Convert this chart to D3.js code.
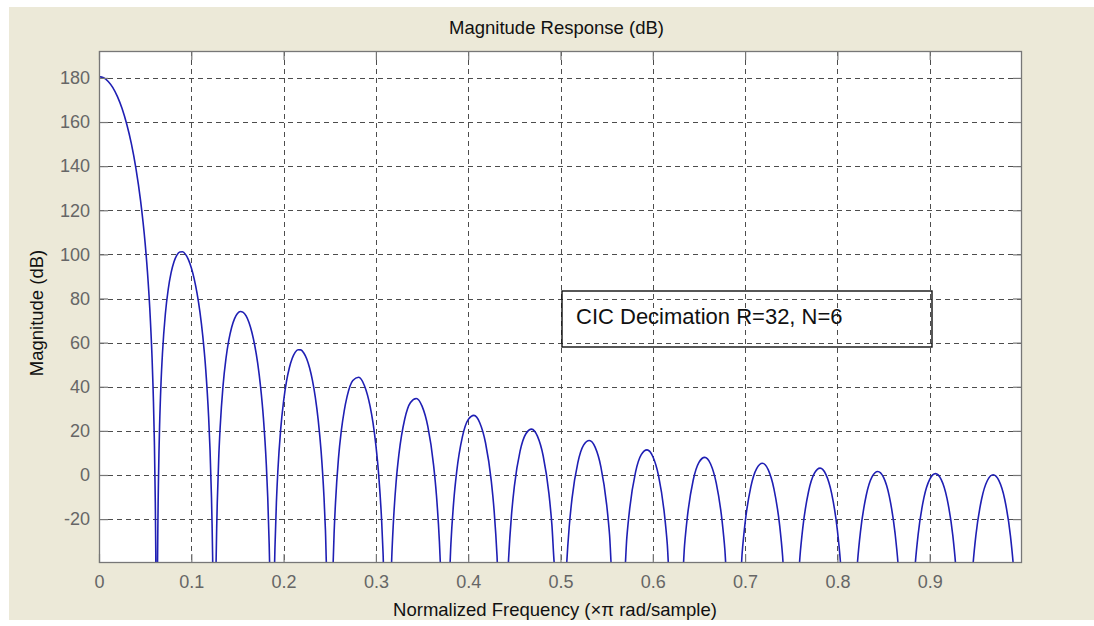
<!DOCTYPE html>
<html>
<head>
<meta charset="utf-8">
<script src="https://cdn.jsdelivr.net/npm/d3@7"></script>
<style>
  html, body { margin: 0; padding: 0; background: #ffffff; }
  svg { display: block; }
  text { font-family: "Liberation Sans", Arial, sans-serif; }
</style>
</head>
<body>
<svg id="chart" width="1094" height="626"></svg>
<script>
// CIC decimator magnitude response, sampled lobe by lobe as [frequency (x pi rad/sample), magnitude (dB)]
const mainLobe = [[0,180.6],[0.005,180.1],[0.01,178.4],[0.015,175.6],[0.02,171.5],[0.025,166.1],[0.03,159.1],[0.035,150.3],[0.04,139.0],[0.045,124.5],[0.05,105.0],[0.0525,92.0],[0.055,75.6],[0.0575,52.9],[0.0585,40.5],[0.059,33.2],[0.06,14.9],[0.061,-12.5],[0.0615,-34.0],[0.062,-70.5]];
const sideLobes = [
  [[0.063125,-59.8],[0.063438,-38.9],[0.06375,-24.1],[0.064063,-12.8],[0.064375,-3.6],[0.065,10.9],[0.065625,22.0],[0.067188,41.7],[0.06875,55.1],[0.071875,73.0],[0.075,84.2],[0.078125,91.7],[0.08125,96.7],[0.084375,99.7],[0.0875,101.1],[0.090625,101.2],[0.09375,100.0],[0.096875,97.6],[0.1,93.9],[0.103125,88.9],[0.10625,82.3],[0.109375,73.8],[0.1125,62.7],[0.115625,47.9],[0.11875,26.5],[0.120313,11.2],[0.121875,-10.3],[0.1225,-22.1],[0.123125,-37.3],[0.12375,-58.6]],
  [[0.12625,-59.5],[0.126875,-38.8],[0.1275,-24.0],[0.128125,-12.8],[0.129688,7.5],[0.13125,21.5],[0.134375,40.4],[0.1375,52.6],[0.140625,61.1],[0.14375,67.0],[0.146875,70.9],[0.15,73.2],[0.153125,74.1],[0.15625,73.7],[0.159375,72.1],[0.1625,69.1],[0.165625,64.7],[0.16875,58.7],[0.171875,50.8],[0.175,40.2],[0.178125,25.9],[0.18125,4.9],[0.182813,-10.1],[0.184375,-31.4],[0.185,-43.1],[0.185625,-58.2]],
  [[0.189375,-59.2],[0.19,-44.4],[0.190625,-33.1],[0.192188,-12.6],[0.19375,1.6],[0.196875,20.9],[0.2,33.5],[0.203125,42.4],[0.20625,48.6],[0.209375,52.9],[0.2125,55.6],[0.215625,56.8],[0.21875,56.7],[0.221875,55.3],[0.225,52.7],[0.228125,48.6],[0.23125,42.9],[0.234375,35.2],[0.2375,24.9],[0.240625,10.8],[0.24375,-9.9],[0.245313,-24.8],[0.246875,-46.0]],
  [[0.2525,-58.6],[0.253125,-47.3],[0.254688,-26.7],[0.25625,-12.4],[0.259375,7.2],[0.2625,20.0],[0.265625,29.0],[0.26875,35.5],[0.275,42.8],[0.28125,44.3],[0.2875,40.6],[0.29375,31.1],[0.296875,23.6],[0.3,13.4],[0.303125,-0.5],[0.30625,-21.0],[0.307813,-35.9],[0.309375,-57.0]],
  [[0.315625,-58.0],[0.317188,-37.3],[0.31875,-23.0],[0.321875,-3.3],[0.325,9.6],[0.33125,25.4],[0.3375,32.9],[0.34375,34.7],[0.35,31.2],[0.35625,22.0],[0.3625,4.5],[0.365625,-9.3],[0.36875,-29.8],[0.370313,-44.6],[0.371875,-65.7]],
  [[0.379688,-45.7],[0.38125,-31.3],[0.384375,-11.6],[0.3875,1.4],[0.39375,17.4],[0.4,25.1],[0.40625,27.0],[0.4125,23.7],[0.41875,14.6],[0.425,-2.7],[0.428125,-16.4],[0.43125,-36.9],[0.432813,-51.6]],
  [[0.442188,-52.6],[0.44375,-38.1],[0.446875,-18.3],[0.45,-5.2],[0.45625,10.9],[0.4625,18.7],[0.46875,20.8],[0.475,17.6],[0.48125,8.6],[0.4875,-8.6],[0.490625,-22.3],[0.49375,-42.6]],
  [[0.504688,-58.1],[0.50625,-43.7],[0.509375,-23.8],[0.5125,-10.6],[0.51875,5.5],[0.525,13.5],[0.53125,15.6],[0.5375,12.6],[0.54375,3.7],[0.55,-13.4],[0.553125,-27.0],[0.55625,-47.4]],
  [[0.56875,-48.2],[0.571875,-28.3],[0.575,-15.1],[0.58125,1.2],[0.5875,9.2],[0.59375,11.4],[0.6,8.4],[0.60625,-0.4],[0.6125,-17.4],[0.615625,-31.0],[0.61875,-51.2]],
  [[0.63125,-51.9],[0.634375,-32.0],[0.6375,-18.8],[0.64375,-2.4],[0.65,5.7],[0.65625,8.0],[0.6625,5.1],[0.66875,-3.7],[0.675,-20.6],[0.678125,-34.1],[0.68125,-54.4]],
  [[0.69375,-54.9],[0.696875,-35.0],[0.7,-21.7],[0.70625,-5.3],[0.7125,2.9],[0.71875,5.3],[0.725,2.4],[0.73125,-6.3],[0.7375,-23.1],[0.740625,-36.7],[0.74375,-56.9]],
  [[0.75625,-57.3],[0.759375,-37.3],[0.7625,-24.0],[0.76875,-7.5],[0.775,0.7],[0.78125,3.1],[0.7875,0.3],[0.79375,-8.3],[0.8,-25.1],[0.803125,-38.6],[0.80625,-58.8]],
  [[0.81875,-59.1],[0.821875,-39.0],[0.825,-25.7],[0.83125,-9.2],[0.8375,-0.9],[0.84375,1.6],[0.85,-1.1],[0.85625,-9.7],[0.8625,-26.5],[0.865625,-39.9],[0.86875,-60.1]],
  [[0.88125,-60.3],[0.884375,-40.2],[0.8875,-26.9],[0.89375,-10.3],[0.9,-2.0],[0.90625,0.6],[0.9125,-2.1],[0.91875,-10.6],[0.925,-27.3],[0.928125,-40.8],[0.93125,-60.9]],
  [[0.94375,-61.0],[0.946875,-40.9],[0.95,-27.5],[0.95625,-10.9],[0.9625,-2.5],[0.96875,0.1],[0.975,-2.6],[0.98125,-11.0],[0.9875,-27.7],[0.990625,-41.1],[0.99375,-61.2]]
];

const xTicks = [0, 0.1, 0.2, 0.3, 0.4, 0.5, 0.6, 0.7, 0.8, 0.9];
const yTicks = [-20, 0, 20, 40, 60, 80, 100, 120, 140, 160, 180];
const xDomain = [0, 1];
const yDomain = [-39.9, 192.2];

const titleText = "Magnitude Response (dB)";
const xLabelText = "Normalized Frequency (\u00d7\u03c0 rad/sample)";
const yLabelText = "Magnitude (dB)";
const noteText = "CIC Decimation R=32, N=6";

const svg = d3.select("#chart");
const W = 1094, H = 626;
const plot = { left: 99, right: 1022, top: 51, bottom: 563 };

// figure background panel
svg.append("rect").attr("x", 9).attr("y", 7).attr("width", W - 9).attr("height", 613).attr("fill", "#ece9d8");

const x = d3.scaleLinear().domain(xDomain).range([plot.left, plot.right]);
const y = d3.scaleLinear().domain(yDomain).range([plot.bottom, plot.top]);

// axes area
svg.append("rect")
  .attr("x", plot.left).attr("y", plot.top)
  .attr("width", plot.right - plot.left).attr("height", plot.bottom - plot.top)
  .attr("fill", "#ffffff");

svg.append("clipPath").attr("id", "plot-clip")
  .append("rect")
  .attr("x", plot.left).attr("y", plot.top)
  .attr("width", plot.right - plot.left).attr("height", plot.bottom - plot.top);

const gridColor = "#4d4d4d";
const axisColor = "#777777";
const grid = svg.append("g").attr("stroke", gridColor).attr("stroke-width", 1).attr("stroke-dasharray", "5,4");
grid.selectAll("line.vx").data(xTicks.filter(t => t > xDomain[0])).join("line")
  .attr("x1", d => Math.round(x(d)) + 0.5).attr("x2", d => Math.round(x(d)) + 0.5)
  .attr("y1", plot.top).attr("y2", plot.bottom);
grid.selectAll("line.hy").data(yTicks).join("line")
  .attr("y1", d => Math.round(y(d)) + 0.5).attr("y2", d => Math.round(y(d)) + 0.5)
  .attr("x1", plot.left).attr("x2", plot.right);

// response curve
const points = mainLobe.concat(...sideLobes);
const line = d3.line().x(d => x(d[0])).y(d => y(d[1])).curve(d3.curveMonotoneX);
svg.append("path")
  .datum(points)
  .attr("clip-path", "url(#plot-clip)")
  .attr("fill", "none")
  .attr("stroke", "#1f1fb4")
  .attr("stroke-width", 1.6)
  .attr("stroke-linejoin", "round")
  .attr("d", line);

// axes with inward ticks
const tickLen = 9;
const plainNumber = d => String(d);
function styleAxis(g) {
  g.select(".domain").remove();
  g.selectAll(".tick line").attr("stroke", axisColor).attr("stroke-width", 1.2);
  g.selectAll(".tick text").attr("fill", "#666666").attr("font-size", 18)
    .attr("font-family", "'Liberation Sans', Arial, sans-serif");
}
svg.append("g").attr("transform", `translate(0,${plot.bottom})`)
  .call(d3.axisBottom(x).tickValues(xTicks).tickSizeInner(-tickLen).tickSizeOuter(0).tickPadding(12).tickFormat(plainNumber))
  .call(styleAxis);
svg.append("g").attr("transform", `translate(0,${plot.top})`)
  .call(d3.axisTop(x).tickValues(xTicks).tickSizeInner(-tickLen).tickSizeOuter(0).tickFormat(""))
  .call(styleAxis);
svg.append("g").attr("transform", `translate(${plot.left},0)`)
  .call(d3.axisLeft(y).tickValues(yTicks).tickSizeInner(-tickLen).tickSizeOuter(0).tickPadding(9).tickFormat(plainNumber))
  .call(styleAxis);
svg.append("g").attr("transform", `translate(${plot.right},0)`)
  .call(d3.axisRight(y).tickValues(yTicks).tickSizeInner(-tickLen).tickSizeOuter(0).tickFormat(""))
  .call(styleAxis);

// axes box
svg.append("rect")
  .attr("x", plot.left + 0.5).attr("y", plot.top + 0.5)
  .attr("width", plot.right - plot.left - 1).attr("height", plot.bottom - plot.top - 1)
  .attr("fill", "none").attr("stroke", axisColor).attr("stroke-width", 1.3);

// annotation box
svg.append("rect")
  .attr("x", 562).attr("y", 291).attr("width", 370).attr("height", 56)
  .attr("fill", "none").attr("stroke", "#111111").attr("stroke-width", 1.4);
svg.append("text").attr("x", 576).attr("y", 323.5)
  .attr("font-size", 22).attr("fill", "#111111").text(noteText);

// titles
svg.append("text").attr("x", 556.5).attr("y", 33.5).attr("text-anchor", "middle")
  .attr("font-size", 18.5).attr("fill", "#111111").text(titleText);
svg.append("text").attr("x", 555).attr("y", 616).attr("text-anchor", "middle")
  .attr("font-size", 18.5).attr("fill", "#111111").text(xLabelText);
svg.append("text").attr("transform", "translate(43,313) rotate(-90)").attr("text-anchor", "middle")
  .attr("font-size", 18.5).attr("fill", "#111111").text(yLabelText);
</script>
</body>
</html>
